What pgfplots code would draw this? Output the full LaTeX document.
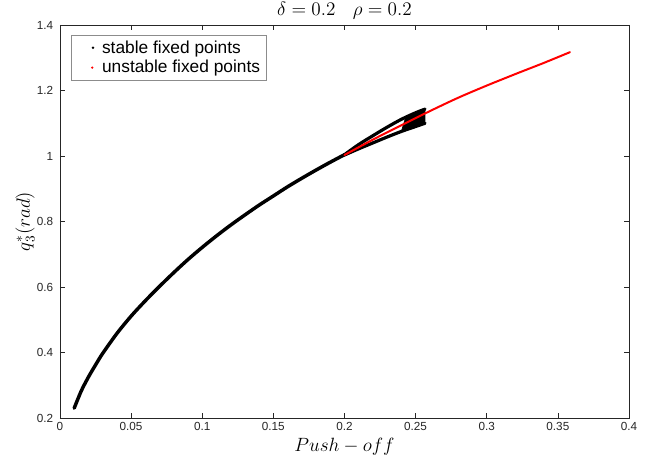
\documentclass[border=0pt]{standalone}
\usepackage{fontspec}
\setmainfont{Liberation Sans}
\usepackage{pgfplots}
\pgfplotsset{compat=1.18}

\definecolor{axgray}{gray}{0.15}

\begin{document}
\begin{tikzpicture}
\begin{axis}[
scale only axis,
width=426.75pt,
height=294.75pt,
xmin=0, xmax=0.4,
ymin=0.2, ymax=1.4,
xtick={0,0.05,...,0.4},
ytick={0.2,0.4,...,1.4},
xticklabels={0,0.05,0.1,0.15,0.2,0.25,0.3,0.35,0.4},
yticklabels={0.2,0.4,0.6,0.8,1,1.2,1.4},
tick align=inside,
major tick length=3.8pt,
axis line style={axgray, line width=0.5pt},
every tick/.style={axgray, line width=0.5pt},
tick label style={font=\fontsize{8.8}{10}\selectfont, text=axgray},
yticklabel style={xshift=-1.5pt},
/pgf/number format/assume math mode=true,
every axis title shift=0pt,
title={$\delta=0.2\ \ \ \rho=0.2$},
title style={font=\fontsize{15.5}{17}\selectfont, at={(rel axis cs:0.5,1.037)}, anchor=center},
xlabel={$Push-off$},
ylabel={$q_3^{*}(rad)$},
xlabel style={font=\fontsize{15}{17}\selectfont, at={(rel axis cs:0.5,-0.072)}, anchor=center, inner sep=1pt},
ylabel style={font=\fontsize{14}{16}\selectfont, at={(rel axis cs:-0.0615,0.5)}, anchor=center},
legend style={at={(0.019,0.975)}, anchor=north west,
  draw=black!45, line width=0.5pt,
  font=\fontsize{13}{15}\selectfont,
  row sep=0pt, inner xsep=3pt, inner ysep=2pt},
legend cell align=left,
]
\coordinate (bl) at (rel axis cs:-0.1054,-0.1094);
\coordinate (tr) at (rel axis cs:1.0387,1.0636);
% stable fixed points, main branch
\addplot[black, line width=2.6pt, line cap=round, line join=round, smooth,
  legend image code/.code={\path[draw=none] (0cm,0cm) -- (0.64cm,0cm);
    \node[circle, fill=black, draw=none, inner sep=0pt, minimum size=2pt] at (0.39cm,0cm) {};}]
coordinates {
(0.010,0.230) (0.015,0.283) (0.020,0.325) (0.025,0.362) (0.030,0.397)
(0.040,0.458) (0.050,0.511) (0.060,0.558) (0.070,0.602) (0.080,0.644)
(0.090,0.684) (0.100,0.721) (0.110,0.756) (0.120,0.789) (0.130,0.820)
(0.140,0.850) (0.150,0.878) (0.160,0.906) (0.170,0.932) (0.180,0.957)
(0.190,0.981) (0.200,1.004)
};
\addlegendentry{stable fixed points}
% stable fixed points, upper and lower branches
\addplot[black, line width=2.4pt, line cap=round, smooth, forget plot]
coordinates {
(0.200,1.004) (0.210,1.035) (0.220,1.062) (0.230,1.088) (0.240,1.112)
(0.250,1.132) (0.2566,1.143)
};
\addplot[black, line width=2.4pt, line cap=round, smooth, forget plot]
coordinates {
(0.200,1.003) (0.210,1.022) (0.220,1.040) (0.230,1.058) (0.240,1.075)
(0.250,1.090) (0.2566,1.100)
};
\addplot[black, fill=black, line width=0.5pt, forget plot]
coordinates {
(0.240,1.075) (0.243,1.118) (0.250,1.134) (0.2566,1.146)
(0.2566,1.098) (0.250,1.089) (0.240,1.075)
} --cycle;
% unstable fixed points
\addplot[red, line width=1.5pt, line cap=round, smooth,
  legend image code/.code={\path[draw=none] (0cm,0cm) -- (0.64cm,0cm);
    \node[circle, fill=red, draw=none, inner sep=0pt, minimum size=2pt] at (0.39cm,0cm) {};}]
coordinates {
(0.200,1.003) (0.220,1.050) (0.240,1.094) (0.260,1.137) (0.280,1.178)
(0.300,1.215) (0.320,1.250) (0.340,1.284) (0.3585,1.317)
};
\addlegendentry{unstable fixed points}
\end{axis}
\pgfresetboundingbox
\path[use as bounding box] (bl) rectangle (tr);
\end{tikzpicture}
\end{document}
